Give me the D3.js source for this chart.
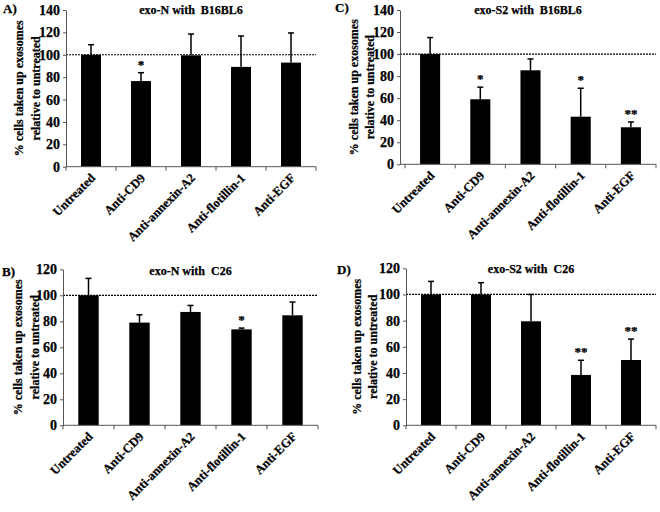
<!DOCTYPE html>
<html>
<head>
<meta charset="utf-8" />
<script src="https://cdn.jsdelivr.net/npm/d3@7/dist/d3.min.js"></script>
<style>
    body { margin: 0; background: #fff; }
    text { font-family: "Liberation Serif", "Times New Roman", serif; font-weight: bold; fill: #000; stroke: #000; stroke-width: 0.25px; }
</style>
</head>
<body>
<script>
    // categories shared by all four panels
    var categories = ["Untreated", "Anti-CD9", "Anti-annexin-A2", "Anti-flotillin-1", "Anti-EGF"];

    // A) exo-N with B16BL6
    var exoNB16Means = [100, 76.5, 99.5, 89.2, 93];
    var exoNB16Errors = [9, 7.5, 19, 27.6, 26.5];
    var exoNB16Stars = ["", "*", "", "", ""];

    // C) exo-S2 with B16BL6
    var exoS2B16Means = [100, 59, 85.3, 43.2, 33.6];
    var exoS2B16Errors = [15, 11, 10.3, 25.8, 4.8];
    var exoS2B16Stars = ["", "*", "", "*", "**"];

    // B) exo-N with C26
    var exoNC26Means = [100, 79, 87.2, 73.8, 84.6];
    var exoNC26Errors = [13, 6, 5, 1, 10.2];
    var exoNC26Stars = ["", "", "", "*", ""];

    // D) exo-S2 with C26
    var exoS2C26Means = [100, 100, 79.5, 38.5, 49.9];
    var exoS2C26Errors = [10, 9, 20.5, 11.2, 16];
    var exoS2C26Stars = ["", "", "", "**", "**"];

    var yTitle1 = "% cells taken up exosomes";
    var yTitle2 = "relative to untreated";

    var width = 660,
        height = 512;

    var svg = d3.select("body").append("svg")
        .attr("width", width)
        .attr("height", height);

    var panels = [
        { label: "A)", title: "exo-N with  B16BL6", means: exoNB16Means, errors: exoNB16Errors, stars: exoNB16Stars,
          yMax: 140, axisX: 66, x0: 66, x1: 316, yBottom: 166.7, yTop: 10, lx: 3, ly: 13, t1: 23, t2: 40, ty: 14 },
        { label: "C)", title: "exo-S2 with  B16BL6", means: exoS2B16Means, errors: exoS2B16Errors, stars: exoS2B16Stars,
          yMax: 140, axisX: 400, x0: 405, x1: 656, yBottom: 164.3, yTop: 10, lx: 335, ly: 12, t1: 358, t2: 374, ty: 14 },
        { label: "B)", title: "exo-N with  C26", means: exoNC26Means, errors: exoNC26Errors, stars: exoNC26Stars,
          yMax: 120, axisX: 63, x0: 63, x1: 318, yBottom: 425.3, yTop: 269.3, lx: 2, ly: 276, t1: 22, t2: 39, ty: 275 },
        { label: "D)", title: "exo-S2 with  C26", means: exoS2C26Means, errors: exoS2C26Errors, stars: exoS2C26Stars,
          yMax: 120, axisX: 406, x0: 406, x1: 656, yBottom: 425.3, yTop: 268.3, lx: 337, ly: 274, t1: 361, t2: 377, ty: 273 }
    ];

    panels.forEach(drawPanel);

    function drawPanel(p) {
        var g = svg.append("g");

        var x = d3.scaleBand()
            .domain(categories)
            .range([p.x0, p.x1]);

        var y = d3.scaleLinear()
            .domain([0, p.yMax])
            .range([p.yBottom, p.yTop]);

        var barW = x.bandwidth() * 0.4;

        // bars
        g.selectAll("rect.bar")
            .data(p.means)
            .enter().append("rect")
            .attr("class", "bar")
            .attr("x", function (d, i) { return x(categories[i]) + (x.bandwidth() - barW) / 2; })
            .attr("y", function (d) { return y(d); })
            .attr("width", barW)
            .attr("height", function (d) { return y(0) - y(d); })
            .attr("fill", "#000");

        // upper error bars
        var err = g.selectAll("g.err")
            .data(p.means)
            .enter().append("g")
            .attr("class", "err")
            .attr("transform", function (d, i) { return "translate(" + (x(categories[i]) + x.bandwidth() / 2) + ",0)"; });
        err.append("line")
            .attr("y1", function (d) { return y(d); })
            .attr("y2", function (d, i) { return y(d + p.errors[i]); })
            .attr("stroke", "#000")
            .attr("stroke-width", 1.5);
        err.append("line")
            .attr("x1", -3).attr("x2", 3)
            .attr("y1", function (d, i) { return y(d + p.errors[i]); })
            .attr("y2", function (d, i) { return y(d + p.errors[i]); })
            .attr("stroke", "#000")
            .attr("stroke-width", 1.5);
        err.append("text")
            .attr("text-anchor", "middle")
            .attr("y", function (d, i) { return y(d + p.errors[i]) - 4; })
            .attr("font-size", "13px")
            .text(function (d, i) { return p.stars[i]; });

        // dotted reference line at 100
        g.append("line")
            .attr("x1", p.axisX).attr("x2", p.x1)
            .attr("y1", y(100)).attr("y2", y(100))
            .attr("stroke", "#000")
            .attr("stroke-width", 1.2)
            .attr("stroke-dasharray", "2,1");

        // y axis
        var yAxis = d3.axisLeft(y)
            .tickValues(d3.range(0, p.yMax + 1, 20))
            .tickSize(3)
            .tickSizeOuter(0)
            .tickPadding(3);
        var ya = g.append("g")
            .attr("transform", "translate(" + p.axisX + ",0)")
            .call(yAxis);
        ya.selectAll("path, line").attr("stroke", "#555");
        ya.selectAll("text")
            .attr("font-size", "14px")
            .attr("fill", "#000");

        // x axis line and boundary ticks
        g.append("line")
            .attr("x1", p.axisX).attr("x2", p.x1)
            .attr("y1", y(0)).attr("y2", y(0))
            .attr("stroke", "#555");
        var bounds = categories.map(function (c) { return x(c); }).concat([p.x1]);
        g.selectAll("line.xtick")
            .data(bounds)
            .enter().append("line")
            .attr("class", "xtick")
            .attr("x1", function (d) { return d; }).attr("x2", function (d) { return d; })
            .attr("y1", y(0)).attr("y2", y(0) + 4)
            .attr("stroke", "#555");

        // x labels, rotated
        g.selectAll("text.xlab")
            .data(categories)
            .enter().append("text")
            .attr("class", "xlab")
            .attr("font-size", "12.5px")
            .attr("text-anchor", "end")
            .attr("transform", function (d) {
                return "translate(" + (x(d) + x.bandwidth() / 2 + 5) + "," + (y(0) + 12) + ") rotate(-45)";
            })
            .text(function (d) { return d; });

        // y title, two lines
        var cy = (p.yBottom + p.yTop) / 2;
        g.append("text")
            .attr("font-size", "12px")
            .attr("text-anchor", "middle")
            .attr("transform", "translate(" + p.t1 + "," + cy + ") rotate(-90)")
            .text(yTitle1);
        g.append("text")
            .attr("font-size", "12px")
            .attr("text-anchor", "middle")
            .attr("transform", "translate(" + p.t2 + "," + cy + ") rotate(-90)")
            .text(yTitle2);

        // title and panel letter
        g.append("text")
            .attr("font-size", "12px")
            .attr("text-anchor", "middle")
            .style("white-space", "pre")
            .attr("x", (p.axisX + p.x1) / 2)
            .attr("y", p.ty)
            .text(p.title);
        g.append("text")
            .attr("font-size", "13px")
            .attr("x", p.lx)
            .attr("y", p.ly)
            .text(p.label);
    }
</script>
</body>
</html>
